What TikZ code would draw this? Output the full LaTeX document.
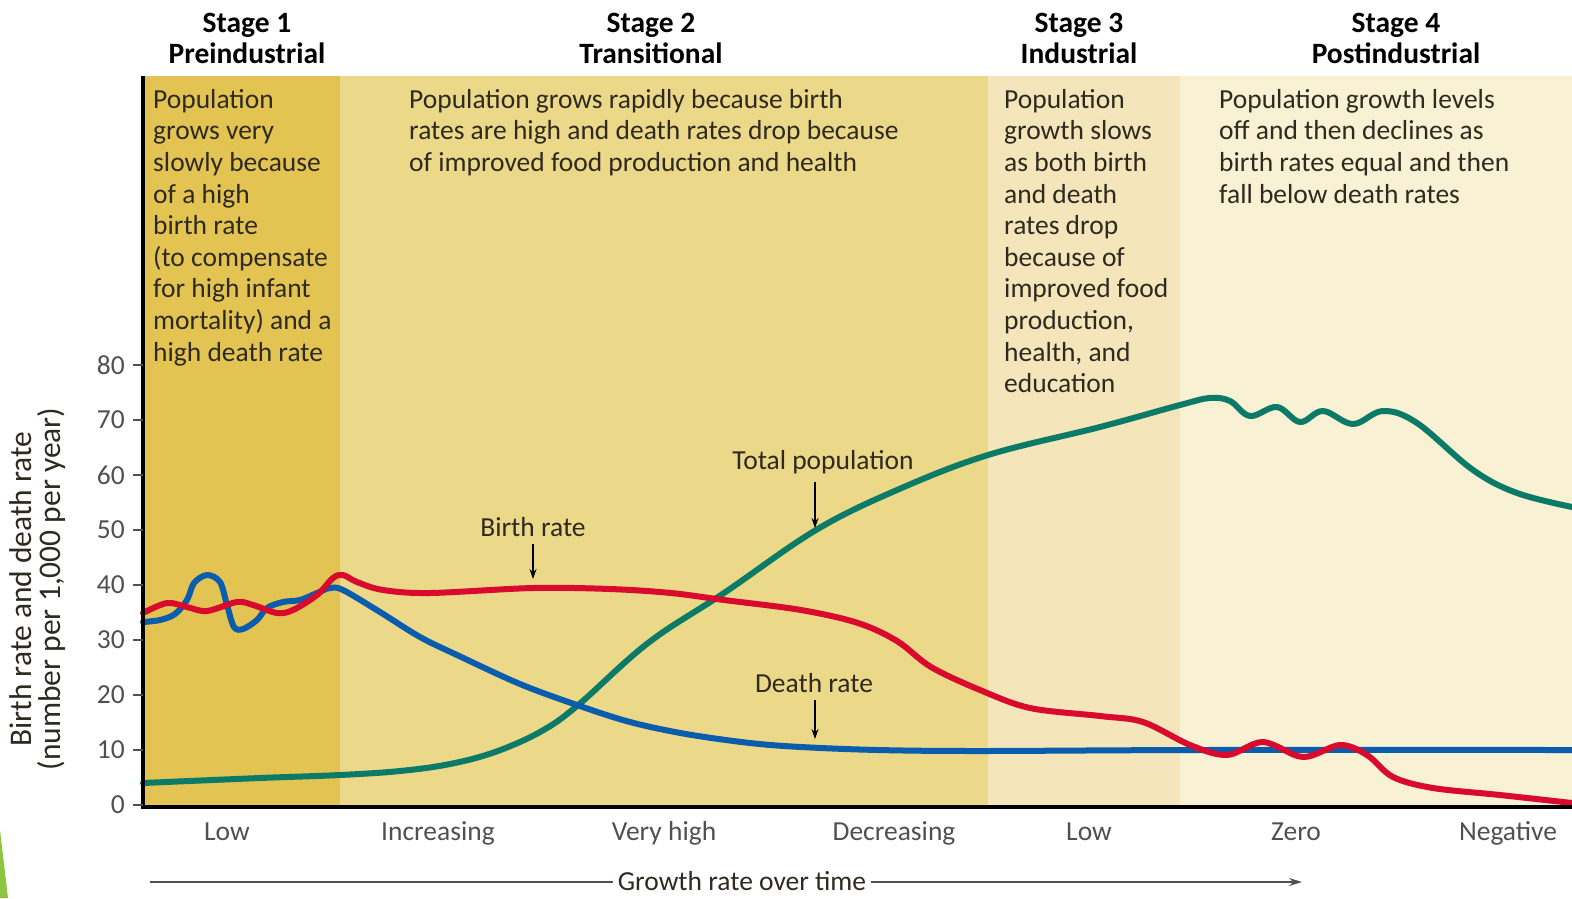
\documentclass[tikz,border=0pt]{standalone}
\usepackage{fontspec}
\setmainfont{Carlito}
\usetikzlibrary{positioning,arrows.meta}

\definecolor{stageone}{HTML}{E3C453}
\definecolor{stagetwo}{HTML}{ECD889}
\definecolor{stagethree}{HTML}{F4E6BA}
\definecolor{stagefour}{HTML}{F8F1D3}
\definecolor{birthred}{HTML}{D80A2E}
\definecolor{deathblue}{HTML}{0A5CAD}
\definecolor{popgreen}{HTML}{0B7A66}
\definecolor{inktext}{HTML}{2E2A20}
\definecolor{tickgray}{HTML}{505050}
\definecolor{slidegreen}{HTML}{8CC63E}

\begin{document}
\begin{tikzpicture}[x=1pt,y=-1pt,
    every node/.style={inner sep=0pt,text=inktext},
    heading/.style={font=\bfseries\fontsize{29.5}{31}\selectfont,align=center,text=black,anchor=base},
    blurb/.style={font=\fontsize{27.5}{31.6}\selectfont,align=left,anchor=north west},
    ticklab/.style={font=\fontsize{27.5}{30}\selectfont,text=tickgray,anchor=east},
    ratelab/.style={font=\fontsize{27.5}{30}\selectfont,text=tickgray,anchor=base},
    curvelab/.style={font=\fontsize{27.5}{30}\selectfont,anchor=base,inner sep=1pt},
    pointer/.style={-{Stealth[length=10pt,width=7pt]},line width=1.3pt,shorten <=7pt},
    curve/.style={line width=6pt,line cap=round,line join=round}]
  \useasboundingbox (0,0) rectangle (1572,898);

  % stage bands
  \fill[stageone]   (143,76) rectangle (340,805);
  \fill[stagetwo]   (340,76) rectangle (988,805);
  \fill[stagethree] (988,76) rectangle (1180,805);
  \fill[stagefour]  (1180,76) rectangle (1572,805);
  \fill[slidegreen] (0,830) -- (8,898) -- (0,898) -- cycle;

  % stage headings
  \node[heading] (st_1) at (247,63) {Stage 1\\Preindustrial};
  \node[heading] (st_2) at (651,63) {Stage 2\\Transitional};
  \node[heading] (st_3) at (1079,63) {Stage 3\\Industrial};
  \node[heading] (st_4) at (1396,63) {Stage 4\\Postindustrial};

  % stage texts
  \node[blurb] (tx_1) at (153,89) {Population\\grows very\\slowly because\\of a high\\birth rate\\(to compensate\\for high infant\\mortality) and a\\high death rate};
  \node[blurb] (tx_2) at (409,89) {Population grows rapidly because birth\\rates are high and death rates drop because\\of improved food production and health};
  \node[blurb] (tx_3) at (1004,89) {Population\\growth slows\\as both birth\\and death\\rates drop\\because of\\improved food\\production,\\health, and\\education};
  \node[blurb] (tx_4) at (1219,89) {Population growth levels\\off and then declines as\\birth rates equal and then\\fall below death rates};

  % curves
  \draw[curve,popgreen] plot[smooth,tension=0.6] coordinates {
    (143,783) (260,778) (340,775) (400,771) (450,764) (495,752) (540,732)
    (577,706) (648,643) (724,593) (816,530) (897,490) (988,455) (1100,427)
    (1180,405) (1210,398) (1230,401) (1250,416) (1277,407) (1300,422)
    (1323,411) (1353,424) (1383,411) (1417,423) (1473,470) (1517,493)
    (1572,507)};
  \draw[curve,deathblue] plot[smooth,tension=0.55] coordinates {
    (143,622) (160,620) (175,614) (187,600) (194,583) (207,575) (220,582)
    (227,605) (234,627) (243,629) (257,620) (267,608) (283,602) (300,600)
    (317,593) (330,588) (343,590) (380,612) (420,637) (457,655) (520,684)
    (577,705) (630,722) (686,734) (750,743) (801,747) (878,750) (980,751)
    (1200,750) (1572,750)};
  \draw[curve,birthred] plot[smooth,tension=0.55] coordinates {
    (143,613) (167,603) (187,607) (207,611) (237,602) (253,605) (277,613)
    (293,610) (317,595) (333,578) (343,575) (357,582) (383,590) (430,593)
    (533,588) (610,589) (671,593) (724,600) (801,610) (858,623) (897,641)
    (931,667) (980,690) (1030,708) (1100,716) (1143,722) (1190,745)
    (1227,755) (1263,742) (1303,757) (1340,745) (1367,755) (1393,777)
    (1433,788) (1500,795) (1572,803)};

  % axes
  \draw[line width=3.5pt] (143,76) -- (143,806.75) -- (1572,806.75);
  \foreach \v in {0,10,...,80}
    {\draw[tickgray,line width=1.5pt] (133,805-5.5*\v) -- (143,805-5.5*\v);
     \node[ticklab] (tk_\v) at (125,805-5.5*\v) {\v};}
  \node[rotate=90,align=center,font=\fontsize{31.5}{29}\selectfont] (ylab) at (38,589)
    {Birth rate and death rate\\(number per 1,000 per year)};

  % growth rate labels
  \foreach \lab/\xx [count=\i] in {Low/227,Increasing/438,Very high/664,Decreasing/894,Low/1089,Zero/1296,Negative/1508}
    \node[ratelab] (gr_\i) at (\xx,840) {\lab};

  \node[font=\fontsize{27.5}{30}\selectfont,anchor=base,inner sep=5pt] (growth) at (742,890) {Growth rate over time};
  \coordinate (tl_0) at (150,882);
  \coordinate (tl_1) at (1302,882);
  \draw[line width=1.4pt,tickgray] (tl_0) -- (tl_0 -| growth.west);
  \draw[line width=1.4pt,tickgray,-{Stealth[length=13pt,width=8pt]}] (tl_0 -| growth.east) -- (tl_1);

  % curve labels
  \node[curvelab] (br_lab) at (533,536) {Birth rate};
  \node[curvelab] (tp_lab) at (823,469) {Total population};
  \node[curvelab] (dr_lab) at (814,692) {Death rate};
  \coordinate (br_pt) at (533,579);
  \coordinate (tp_pt) at (815,528);
  \coordinate (dr_pt) at (815,739);
  \draw[pointer] (br_lab.south) -- (br_pt);
  \draw[pointer] (tp_lab.south -| tp_pt) -- (tp_pt);
  \draw[pointer] (dr_lab.south -| dr_pt) -- (dr_pt);
\end{tikzpicture}
\end{document}
